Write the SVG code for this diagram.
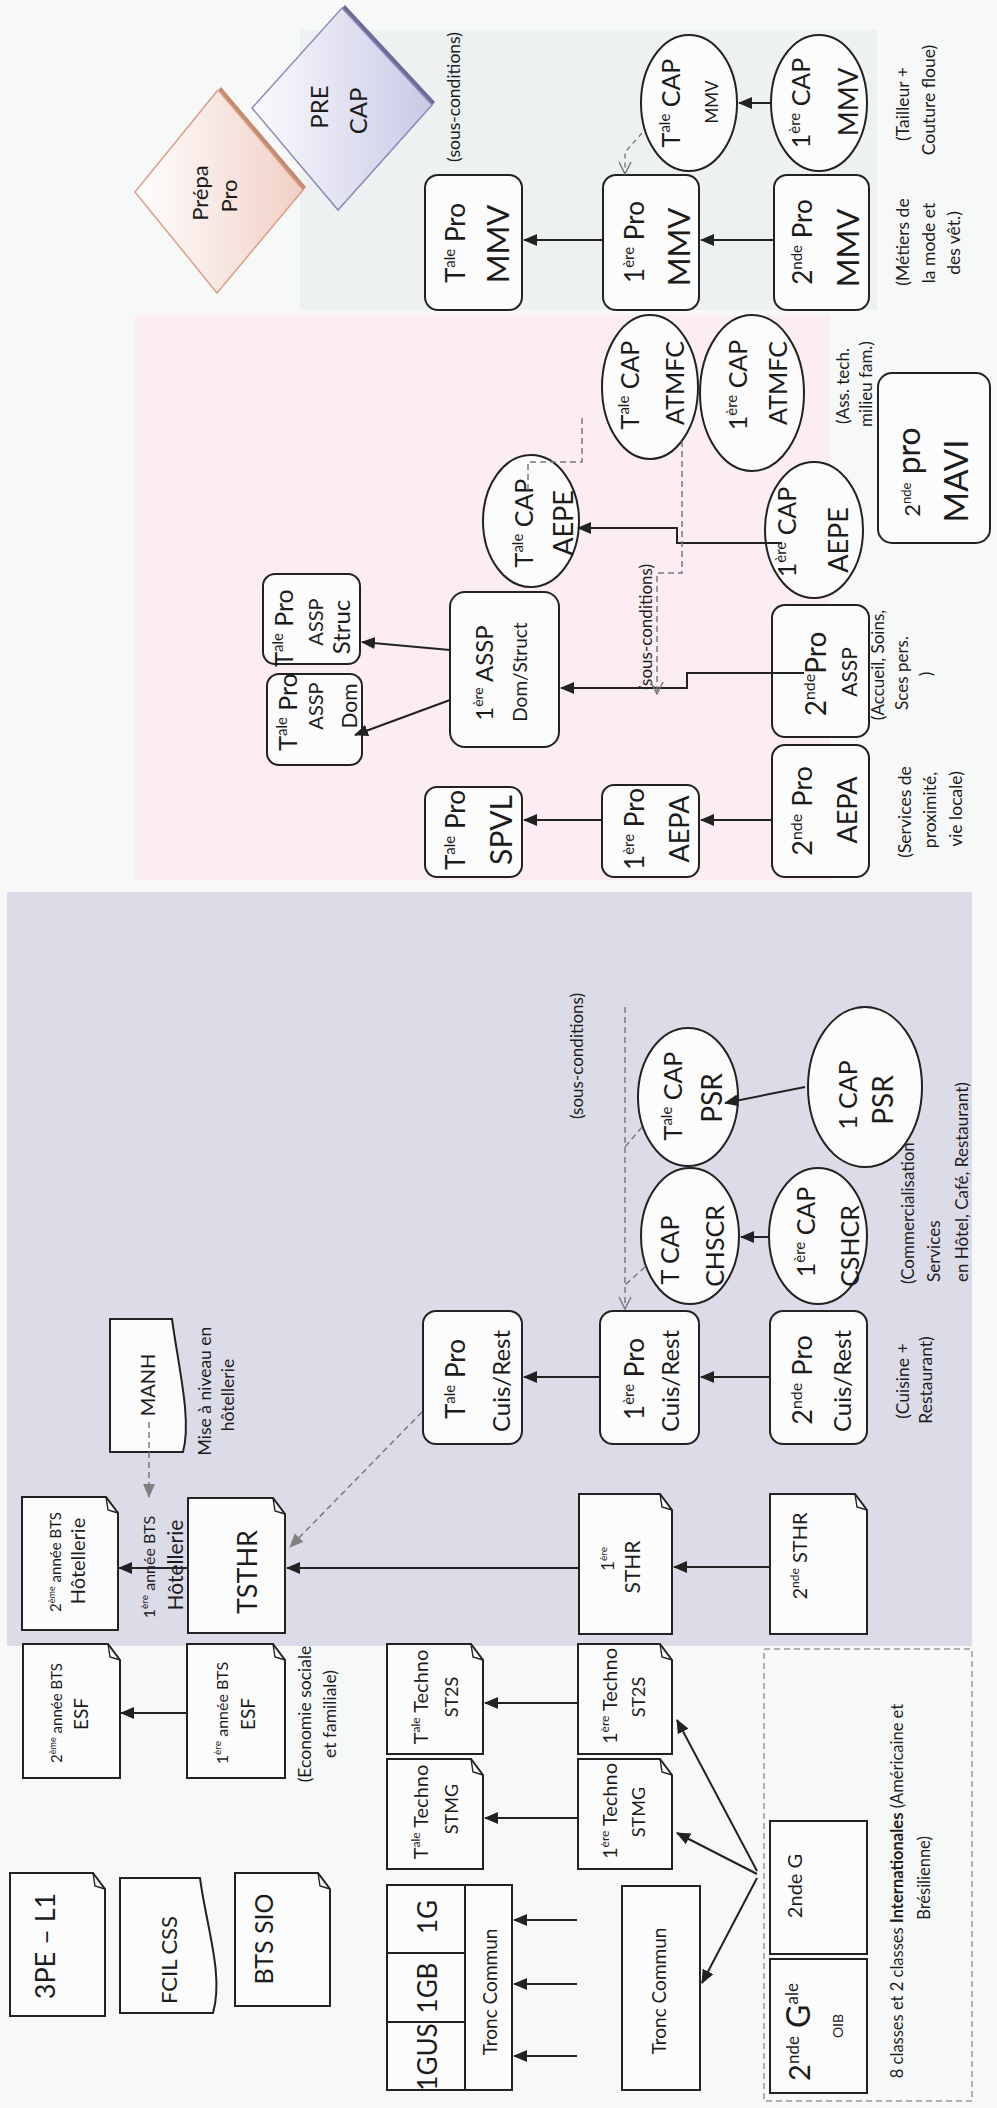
<svg xmlns="http://www.w3.org/2000/svg" width="997" height="2108" viewBox="0 0 997 2108">
<defs>
<style>
.t{font-family:Lato,'Liberation Sans',sans-serif;fill:#1c1c1c;text-anchor:middle}
.st{text-anchor:start}
.box{fill:#fcfcfc;stroke:#222;stroke-width:2}
.ln{fill:none;stroke:#222;stroke-width:2}
.dl{fill:none;stroke:#7a7a7a;stroke-width:1.5;stroke-dasharray:6 4}
.dg{fill:none;stroke:#6f8f78;stroke-width:1.5;stroke-dasharray:5 4}
.fold{fill:none;stroke:#222;stroke-width:1.4}
</style>
<marker id="a" viewBox="0 0 14 12" refX="13" refY="6" markerWidth="14" markerHeight="12" markerUnits="userSpaceOnUse" orient="auto"><path d="M0 0L14 6L0 12z" fill="#222"/></marker>
<marker id="ag" viewBox="0 0 14 12" refX="13" refY="6" markerWidth="14" markerHeight="12" markerUnits="userSpaceOnUse" orient="auto"><path d="M0 0L14 6L0 12z" fill="#808080"/></marker>
<marker id="ao" viewBox="0 0 14 14" refX="13" refY="7" markerWidth="14" markerHeight="14" markerUnits="userSpaceOnUse" orient="auto"><path d="M1 1L13 7L1 13" fill="none" stroke="#7a7a7a" stroke-width="1.5"/></marker>
<linearGradient id="gP" x1="0" y1="0" x2="1" y2="0"><stop offset="0" stop-color="#ffffff"/><stop offset="1" stop-color="#f0cfc5"/></linearGradient>
<linearGradient id="gC" x1="0" y1="0" x2="1" y2="0"><stop offset="0" stop-color="#fbfbfe"/><stop offset="1" stop-color="#c9c9e6"/></linearGradient>
</defs>

<g id="background">
<rect width="997" height="2108" fill="#f7f8f8"/>
<rect x="300" y="30" width="577" height="280" fill="#edf1f1"/>
<rect x="135" y="315" width="695" height="565" fill="#fbedf1"/>
<rect x="7" y="892" width="965" height="754" fill="#dcdce8"/>
<rect x="764" y="1649" width="208" height="452" fill="none" stroke="#999" stroke-width="1.5" stroke-dasharray="6 4"/>
</g>

<g id="prepa-pro">
<polygon points="138,189 221,87 306,187 220,290" fill="#c48a70"/>
<polygon points="135,192 218,90 303,190 217,293" fill="url(#gP)" stroke="#d9a08a" stroke-width="1.5"/>
<text class="t" x="208" y="193" font-size="22" transform="rotate(-90 208 193)">Prépa</text>
<text class="t" x="237" y="196" font-size="22" transform="rotate(-90 237 196)">Pro</text>
</g>
<g id="pre-cap">
<polygon points="255,105 345,5 435,102 341,207" fill="#6c6c9a"/>
<polygon points="252,108 342,8 432,105 338,210" fill="url(#gC)" stroke="#8c8cb8" stroke-width="1.5"/>
<text class="t" x="328" y="107" font-size="24" transform="rotate(-90 328 107)">PRE</text>
<text class="t" x="367" y="111" font-size="24" transform="rotate(-90 367 111)">CAP</text>
</g>

<g id="notes-mmv">
<text class="t" x="460" y="97" font-size="17.5" transform="rotate(-90 460 97)">(sous-conditions)</text>
<text class="t" x="909" y="104" font-size="17.5" transform="rotate(-90 909 104)">(Tailleur +</text>
<text class="t" x="935" y="100" font-size="17.5" transform="rotate(-90 935 100)">Couture floue)</text>
<text class="t" x="909" y="242" font-size="17.5" transform="rotate(-90 909 242)">(Métiers de</text>
<text class="t" x="935" y="243" font-size="17.5" transform="rotate(-90 935 243)">la mode et</text>
<text class="t" x="960" y="243" font-size="17.5" transform="rotate(-90 960 243)">des vêt.)</text>
</g>

<g id="tale-pro-mmv">
<rect class="box" x="425" y="175" width="97" height="135" rx="13"/>
<text class="t" x="465" y="243" font-size="26" transform="rotate(-90 465 243)">T<tspan font-size="15" dy="-10">ale</tspan><tspan dy="10"> Pro</tspan></text>
<text class="t" x="509" y="244" font-size="31" transform="rotate(-90 509 244)">MMV</text>
</g>
<g id="premiere-pro-mmv">
<rect class="box" x="603" y="175" width="96" height="135" rx="13"/>
<text class="t" x="644" y="242" font-size="26" transform="rotate(-90 644 242)">1<tspan font-size="15" dy="-10">ère</tspan><tspan dy="10"> Pro</tspan></text>
<text class="t" x="690" y="247" font-size="31" transform="rotate(-90 690 247)">MMV</text>
</g>
<g id="seconde-pro-mmv">
<rect class="box" x="774" y="175" width="95" height="135" rx="13"/>
<text class="t" x="812" y="242" font-size="26" transform="rotate(-90 812 242)">2<tspan font-size="15" dy="-10">nde</tspan><tspan dy="10"> Pro</tspan></text>
<text class="t" x="859" y="248" font-size="31" transform="rotate(-90 859 248)">MMV</text>
</g>
<g id="tale-cap-mmv">
<ellipse class="box" cx="689" cy="103" rx="48" ry="68"/>
<text class="t" x="680" y="103" font-size="25" transform="rotate(-90 680 103)">T<tspan font-size="15" dy="-10">ale</tspan><tspan dy="10"> CAP</tspan></text>
<text class="t" x="718" y="102" font-size="17" transform="rotate(-90 718 102)">MMV</text>
</g>
<g id="premiere-cap-mmv">
<ellipse class="box" cx="819" cy="103" rx="48" ry="68"/>
<text class="t" x="810" y="103" font-size="25" transform="rotate(-90 810 103)">1<tspan font-size="15" dy="-10">ère</tspan><tspan dy="10"> CAP</tspan></text>
<text class="t" x="858" y="102" font-size="27" transform="rotate(-90 858 102)">MMV</text>
</g>

<g id="tale-cap-atmfc">
<ellipse class="box" cx="650" cy="387" rx="48" ry="72"/>
<text class="t" x="639" y="385" font-size="25" transform="rotate(-90 639 385)">T<tspan font-size="15" dy="-10">ale</tspan><tspan dy="10"> CAP</tspan></text>
<text class="t" x="684" y="383" font-size="25" transform="rotate(-90 684 383)">ATMFC</text>
</g>
<g id="premiere-cap-atmfc">
<ellipse class="box" cx="752" cy="393" rx="52" ry="78"/>
<text class="t" x="747" y="385" font-size="25" transform="rotate(-90 747 385)">1<tspan font-size="15" dy="-10">ère</tspan><tspan dy="10"> CAP</tspan></text>
<text class="t" x="787" y="383" font-size="25" transform="rotate(-90 787 383)">ATMFC</text>
</g>
<g id="notes-atmfc">
<text class="t" x="849" y="386" font-size="17" transform="rotate(-90 849 386)">(Ass. tech.</text>
<text class="t" x="872" y="384" font-size="17" transform="rotate(-90 872 384)">milieu fam.)</text>
</g>
<g id="seconde-pro-mavi">
<rect class="box" x="878" y="373" width="112" height="170" rx="14"/>
<text class="t" x="920" y="472" font-size="22" transform="rotate(-90 920 472)">2<tspan font-size="13" dy="-9">nde</tspan><tspan dy="9" font-size="32"> pro</tspan></text>
<text class="t" x="968" y="481" font-size="33" transform="rotate(-90 968 481)">MAVI</text>
</g>

<g id="tale-cap-aepe">
<ellipse class="box" cx="531" cy="521" rx="48" ry="66"/>
<text class="t" x="533" y="523" font-size="25" transform="rotate(-90 533 523)">T<tspan font-size="15" dy="-10">ale</tspan><tspan dy="10"> CAP</tspan></text>
<text class="t" x="573" y="523" font-size="27" transform="rotate(-90 573 523)">AEPE</text>
</g>
<g id="premiere-cap-aepe">
<ellipse class="box" cx="814" cy="530" rx="49" ry="68"/>
<text class="t" x="796" y="532" font-size="25" transform="rotate(-90 796 532)">1<tspan font-size="15" dy="-10">ère</tspan><tspan dy="10"> CAP</tspan></text>
<text class="t" x="848" y="540" font-size="27" transform="rotate(-90 848 540)">AEPE</text>
</g>

<g id="premiere-assp">
<rect class="box" x="450" y="592" width="109" height="155" rx="15"/>
<text class="t" x="493" y="673" font-size="24" transform="rotate(-90 493 673)">1<tspan font-size="14" dy="-10">ère</tspan><tspan dy="10"> ASSP</tspan></text>
<text class="t" x="527" y="672" font-size="19" transform="rotate(-90 527 672)">Dom/Struct</text>
</g>
<g id="tale-pro-assp-struc">
<rect class="box" x="263" y="574" width="97" height="90" rx="12"/>
<text class="t" x="293" y="628" font-size="25" transform="rotate(-90 293 628)">T<tspan font-size="15" dy="-10">ale</tspan><tspan dy="10"> Pro</tspan></text>
<text class="t" x="323" y="622" font-size="20" transform="rotate(-90 323 622)">ASSP</text>
<text class="t" x="350" y="627" font-size="24" transform="rotate(-90 350 627)">Struc</text>
</g>
<g id="tale-pro-assp-dom">
<rect class="box" x="267" y="674" width="95" height="91" rx="12"/>
<text class="t" x="297" y="712" font-size="25" transform="rotate(-90 297 712)">T<tspan font-size="15" dy="-10">ale</tspan><tspan dy="10"> Pro</tspan></text>
<text class="t" x="323" y="706" font-size="20" transform="rotate(-90 323 706)">ASSP</text>
<text class="t" x="357" y="706" font-size="21" transform="rotate(-90 357 706)">Dom</text>
</g>
<g id="tale-pro-spvl">
<rect class="box" x="425" y="787" width="97" height="90" rx="12"/>
<text class="t" x="465" y="830" font-size="26" transform="rotate(-90 465 830)">T<tspan font-size="15" dy="-10">ale</tspan><tspan dy="10"> Pro</tspan></text>
<text class="t" x="512" y="830" font-size="30" transform="rotate(-90 512 830)">SPVL</text>
</g>
<g id="premiere-pro-aepa">
<rect class="box" x="602" y="785" width="97" height="92" rx="12"/>
<text class="t" x="644" y="829" font-size="26" transform="rotate(-90 644 829)">1<tspan font-size="15" dy="-10">ère</tspan><tspan dy="10"> Pro</tspan></text>
<text class="t" x="689" y="829" font-size="27" transform="rotate(-90 689 829)">AEPA</text>
</g>
<g id="seconde-pro-aepa">
<rect class="box" x="772" y="745" width="97" height="132" rx="13"/>
<text class="t" x="812" y="811" font-size="27" transform="rotate(-90 812 811)">2<tspan font-size="16" dy="-10">nde</tspan><tspan dy="10"> Pro</tspan></text>
<text class="t" x="857" y="810" font-size="27" transform="rotate(-90 857 810)">AEPA</text>
</g>
<g id="seconde-pro-assp">
<rect class="box" x="772" y="605" width="97" height="132" rx="13"/>
<text class="t" x="826" y="674" font-size="28" transform="rotate(-90 826 674)">2<tspan font-size="16" dy="-11">nde</tspan><tspan dy="11">Pro</tspan></text>
<text class="t" x="857" y="672" font-size="21" transform="rotate(-90 857 672)">ASSP</text>
</g>
<g id="notes-assp">
<text class="t" x="652" y="627" font-size="17" transform="rotate(-90 652 627)">(sous-conditions)</text>
<text class="t" x="884" y="665" font-size="17" transform="rotate(-90 884 665)">(Accueil, Soins,</text>
<text class="t" x="908" y="673" font-size="17" transform="rotate(-90 908 673)">Sces pers.</text>
<text class="t" x="932" y="674" font-size="17" transform="rotate(-90 932 674)">)</text>
<text class="t" x="911" y="812" font-size="17.5" transform="rotate(-90 911 812)">(Services de</text>
<text class="t" x="936" y="810" font-size="17.5" transform="rotate(-90 936 810)">proximité,</text>
<text class="t" x="962" y="809" font-size="17.5" transform="rotate(-90 962 809)">vie locale)</text>
</g>

<g id="tale-pro-cuis">
<rect class="box" x="423" y="1311" width="99" height="133" rx="13"/>
<text class="t" x="465" y="1379" font-size="26" transform="rotate(-90 465 1379)">T<tspan font-size="15" dy="-10">ale</tspan><tspan dy="10"> Pro</tspan></text>
<text class="t" x="510" y="1381" font-size="24" transform="rotate(-90 510 1381)">Cuis/Rest</text>
</g>
<g id="premiere-pro-cuis">
<rect class="box" x="600" y="1311" width="99" height="133" rx="13"/>
<text class="t" x="644" y="1379" font-size="26" transform="rotate(-90 644 1379)">1<tspan font-size="15" dy="-10">ère</tspan><tspan dy="10"> Pro</tspan></text>
<text class="t" x="679" y="1381" font-size="24" transform="rotate(-90 679 1381)">Cuis/Rest</text>
</g>
<g id="seconde-pro-cuis">
<rect class="box" x="770" y="1311" width="97" height="133" rx="13"/>
<text class="t" x="812" y="1380" font-size="27" transform="rotate(-90 812 1380)">2<tspan font-size="16" dy="-10">nde</tspan><tspan dy="10"> Pro</tspan></text>
<text class="t" x="851" y="1381" font-size="24" transform="rotate(-90 851 1381)">Cuis/Rest</text>
</g>
<g id="t-cap-chscr">
<ellipse class="box" cx="690" cy="1236" rx="49" ry="68"/>
<text class="t" x="679" y="1250" font-size="25" transform="rotate(-90 679 1250)">T CAP</text>
<text class="t" x="724" y="1246" font-size="25" transform="rotate(-90 724 1246)">CHSCR</text>
</g>
<g id="premiere-cap-cshcr">
<ellipse class="box" cx="818" cy="1236" rx="49" ry="68"/>
<text class="t" x="815" y="1232" font-size="25" transform="rotate(-90 815 1232)">1<tspan font-size="15" dy="-10">ère</tspan><tspan dy="10"> CAP</tspan></text>
<text class="t" x="859" y="1246" font-size="25" transform="rotate(-90 859 1246)">CSHCR</text>
</g>
<g id="tale-cap-psr">
<ellipse class="box" cx="688" cy="1097" rx="50" ry="69"/>
<text class="t" x="682" y="1096" font-size="25" transform="rotate(-90 682 1096)">T<tspan font-size="15" dy="-10">ale</tspan><tspan dy="10"> CAP</tspan></text>
<text class="t" x="722" y="1098" font-size="28" transform="rotate(-90 722 1098)">PSR</text>
</g>
<g id="un-cap-psr">
<ellipse class="box" cx="865" cy="1087" rx="57" ry="80"/>
<text class="t" x="857" y="1095" font-size="25" transform="rotate(-90 857 1095)">1 CAP</text>
<text class="t" x="893" y="1100" font-size="28" transform="rotate(-90 893 1100)">PSR</text>
</g>
<g id="notes-hotel">
<text class="t" x="583" y="1056" font-size="17" transform="rotate(-90 583 1056)">(sous-conditions)</text>
<text class="t st" x="914" y="1284" font-size="17" transform="rotate(-90 914 1284)">(Commercialisation</text>
<text class="t st" x="940" y="1282" font-size="17" transform="rotate(-90 940 1282)">Services</text>
<text class="t st" x="968" y="1282" font-size="17" transform="rotate(-90 968 1282)">en Hôtel, Café, Restaurant)</text>
<text class="t" x="909" y="1381" font-size="17.5" transform="rotate(-90 909 1381)">(Cuisine +</text>
<text class="t" x="932" y="1380" font-size="17.5" transform="rotate(-90 932 1380)">Restaurant)</text>
<text class="t" x="211" y="1391" font-size="17.5" transform="rotate(-90 211 1391)">Mise à niveau en</text>
<text class="t" x="234" y="1395" font-size="17.5" transform="rotate(-90 234 1395)">hôtellerie</text>
<text class="t" x="155" y="1567" font-size="16" transform="rotate(-90 155 1567)">1<tspan font-size="10" dy="-7">ère</tspan><tspan dy="7"> année BTS</tspan></text>
<text class="t" x="183" y="1565" font-size="21" transform="rotate(-90 183 1565)">Hôtellerie</text>
</g>
<g id="manh">
<path class="box" d="M110 1319H172C178 1365 192 1420 183 1452H110Z"/>
<text class="t" x="155" y="1385" font-size="20" transform="rotate(-90 155 1385)">MANH</text>
</g>
<g id="bts-hotellerie-2">
<path class="box" d="M22 1497H106L118 1513V1630H22Z"/>
<path class="fold" d="M106 1497L108 1510L118 1513"/>
<text class="t" x="61" y="1562" font-size="15" transform="rotate(-90 61 1562)">2<tspan font-size="9" dy="-6">ème</tspan><tspan dy="6"> année BTS</tspan></text>
<text class="t" x="85" y="1561" font-size="20" transform="rotate(-90 85 1561)">Hôtellerie</text>
</g>
<g id="tsthr">
<path class="box" d="M188 1498H273L285 1514V1633H188Z"/>
<path class="fold" d="M273 1498L275 1511L285 1514"/>
<text class="t" x="257" y="1572" font-size="27" transform="rotate(-90 257 1572)">TSTHR</text>
</g>
<g id="premiere-sthr">
<path class="box" d="M579 1494H660L672 1510V1634H579Z"/>
<path class="fold" d="M660 1494L662 1507L672 1510"/>
<text class="t" x="614" y="1559" font-size="17" transform="rotate(-90 614 1559)">1<tspan font-size="10" dy="-7">ère</tspan></text>
<text class="t" x="640" y="1567" font-size="21" transform="rotate(-90 640 1567)">STHR</text>
</g>
<g id="seconde-sthr">
<path class="box" d="M770 1494H855L867 1510V1634H770Z"/>
<path class="fold" d="M855 1494L857 1507L867 1510"/>
<text class="t" x="807" y="1556" font-size="20" transform="rotate(-90 807 1556)">2<tspan font-size="12" dy="-8">nde</tspan><tspan dy="8"> STHR</tspan></text>
</g>

<g id="bts-esf-2">
<path class="box" d="M23 1644H108L120 1660V1778H23Z"/>
<path class="fold" d="M108 1644L110 1657L120 1660"/>
<text class="t" x="62" y="1713" font-size="15" transform="rotate(-90 62 1713)">2<tspan font-size="9" dy="-6">ème</tspan><tspan dy="6"> année BTS</tspan></text>
<text class="t" x="88" y="1714" font-size="19" transform="rotate(-90 88 1714)">ESF</text>
</g>
<g id="bts-esf-1">
<path class="box" d="M187 1644H273L285 1660V1778H187Z"/>
<path class="fold" d="M273 1644L275 1657L285 1660"/>
<text class="t" x="228" y="1713" font-size="16" transform="rotate(-90 228 1713)">1<tspan font-size="10" dy="-7">ère</tspan><tspan dy="7"> année BTS</tspan></text>
<text class="t" x="255" y="1714" font-size="19" transform="rotate(-90 255 1714)">ESF</text>
</g>
<g id="notes-esf">
<text class="t" x="311" y="1714" font-size="17.5" transform="rotate(-90 311 1714)">(Economie sociale</text>
<text class="t" x="336" y="1714" font-size="17.5" transform="rotate(-90 336 1714)">et familiale)</text>
</g>
<g id="tale-techno-st2s">
<path class="box" d="M387 1644H471L483 1660V1754H387Z"/>
<path class="fold" d="M471 1644L473 1657L483 1660"/>
<text class="t" x="428" y="1697" font-size="20" transform="rotate(-90 428 1697)">T<tspan font-size="12" dy="-8">ale</tspan><tspan dy="8"> Techno</tspan></text>
<text class="t" x="458" y="1697" font-size="18" transform="rotate(-90 458 1697)">ST2S</text>
</g>
<g id="tale-techno-stmg">
<path class="box" d="M387 1759H471L483 1775V1869H387Z"/>
<path class="fold" d="M471 1759L473 1772L483 1775"/>
<text class="t" x="428" y="1812" font-size="20" transform="rotate(-90 428 1812)">T<tspan font-size="12" dy="-8">ale</tspan><tspan dy="8"> Techno</tspan></text>
<text class="t" x="458" y="1809" font-size="18" transform="rotate(-90 458 1809)">STMG</text>
</g>
<g id="premiere-techno-st2s">
<path class="box" d="M578 1644H660L672 1660V1754H578Z"/>
<path class="fold" d="M660 1644L662 1657L672 1660"/>
<text class="t" x="617" y="1696" font-size="20" transform="rotate(-90 617 1696)">1<tspan font-size="12" dy="-8">ère</tspan><tspan dy="8"> Techno</tspan></text>
<text class="t" x="645" y="1697" font-size="18" transform="rotate(-90 645 1697)">ST2S</text>
</g>
<g id="premiere-techno-stmg">
<path class="box" d="M578 1759H660L672 1775V1869H578Z"/>
<path class="fold" d="M660 1759L662 1772L672 1775"/>
<text class="t" x="617" y="1811" font-size="20" transform="rotate(-90 617 1811)">1<tspan font-size="12" dy="-8">ère</tspan><tspan dy="8"> Techno</tspan></text>
<text class="t" x="645" y="1812" font-size="18" transform="rotate(-90 645 1812)">STMG</text>
</g>
<g id="premiere-generale">
<rect class="box" x="387" y="1885" width="125" height="205"/>
<path class="ln" d="M465 1885V2090M387 1953H465M387 2022H465"/>
<text class="t" x="437" y="1917" font-size="26" transform="rotate(-90 437 1917)">1G</text>
<text class="t" x="437" y="1988" font-size="26" transform="rotate(-90 437 1988)">1GB</text>
<text class="t" x="437" y="2057" font-size="26" transform="rotate(-90 437 2057)">1GUS</text>
<text class="t" x="497" y="1992" font-size="19" transform="rotate(-90 497 1992)">Tronc Commun</text>
</g>
<g id="tronc-commun">
<rect class="box" x="622" y="1886" width="78" height="204"/>
<text class="t" x="666" y="1991" font-size="19" transform="rotate(-90 666 1991)">Tronc Commun</text>
</g>
<g id="seconde-g">
<rect class="box" x="770" y="1821" width="97" height="133"/>
<text class="t" x="802" y="1886" font-size="20" transform="rotate(-90 802 1886)">2nde G</text>
</g>
<g id="seconde-oib">
<rect class="box" x="770" y="1959" width="97" height="134"/>
<text class="t" x="810" y="2032" font-size="29" transform="rotate(-90 810 2032)">2<tspan font-size="17" dy="-11">nde</tspan><tspan dy="11" font-size="32"> G</tspan><tspan font-size="17" dy="-12">ale</tspan></text>
<text class="t" x="843" y="2026" font-size="14" transform="rotate(-90 843 2026)">OIB</text>
</g>
<g id="notes-internationales">
<text class="t" x="903" y="1891" font-size="16.5" transform="rotate(-90 903 1891)">8 classes et 2 classes <tspan font-weight="bold">Internationales</tspan> (Américaine et</text>
<text class="t" x="930" y="1878" font-size="16.5" transform="rotate(-90 930 1878)">Brésilienne)</text>
</g>
<g id="pe-l1">
<path class="box" d="M10 1873H93L105 1889V2016H10Z"/>
<path class="fold" d="M93 1873L95 1886L105 1889"/>
<text class="t" x="55" y="1946" font-size="27" transform="rotate(-90 55 1946)">3PE – L1</text>
</g>
<g id="fcil-css">
<path class="box" d="M120 1878H200C206 1925 224 1975 213 2013H120Z"/>
<text class="t" x="177" y="1960" font-size="22" transform="rotate(-90 177 1960)">FCIL CSS</text>
</g>
<g id="bts-sio">
<path class="box" d="M235 1873H318L330 1889V2006H235Z"/>
<path class="fold" d="M318 1873L320 1886L330 1889"/>
<text class="t" x="273" y="1939" font-size="25" transform="rotate(-90 273 1939)">BTS SIO</text>
</g>

<g id="connectors">
<path class="ln" marker-end="url(#a)" d="M603 240H524"/>
<path class="ln" marker-end="url(#a)" d="M774 240H701"/>
<path class="ln" marker-end="url(#a)" d="M771 103H739"/>
<path class="dg" marker-end="url(#ao)" d="M642 133L625 152V174"/>
<path class="ln" marker-end="url(#a)" d="M450 650L362 642"/>
<path class="ln" marker-end="url(#a)" d="M450 700L355 735"/>
<path class="ln" marker-end="url(#a)" d="M602 820H524"/>
<path class="ln" marker-end="url(#a)" d="M772 820H701"/>
<path class="ln" marker-end="url(#a)" d="M804 673H687V688H561"/>
<path class="ln" marker-end="url(#a)" d="M782 543H677V528H578"/>
<path class="dl" marker-end="url(#ao)" d="M682 441V573H657V694"/>
<path class="dl" d="M582 418V462H528V490"/>
<path class="ln" marker-end="url(#a)" d="M600 1377H524"/>
<path class="ln" marker-end="url(#a)" d="M770 1377H701"/>
<path class="ln" marker-end="url(#a)" d="M769 1237H741"/>
<path class="ln" marker-end="url(#a)" d="M805 1087L725 1103"/>
<path class="dl" marker-end="url(#ao)" d="M625 1007V1309"/>
<path class="dl" d="M645 1267L625 1285"/>
<path class="dl" d="M642 1127L625 1147"/>
<path class="ln" marker-end="url(#a)" d="M579 1568H287"/>
<path class="ln" marker-end="url(#a)" d="M770 1567H674"/>
<path class="ln" marker-end="url(#a)" d="M188 1568H119"/>
<path class="dl" stroke="#808080" stroke-width="2" marker-end="url(#ag)" d="M149 1422V1497"/>
<path class="dl" stroke="#808080" stroke-width="2" marker-end="url(#ag)" d="M422 1412L290 1547"/>
<path class="ln" marker-end="url(#a)" d="M187 1713H121"/>
<path class="ln" marker-end="url(#a)" d="M578 1703H485"/>
<path class="ln" marker-end="url(#a)" d="M578 1818H485"/>
<path class="ln" marker-end="url(#a)" d="M577 1920H514"/>
<path class="ln" marker-end="url(#a)" d="M577 1984H514"/>
<path class="ln" marker-end="url(#a)" d="M577 2056H514"/>
<path class="ln" marker-end="url(#a)" d="M757 1871L677 1720"/>
<path class="ln" marker-end="url(#a)" d="M757 1874L677 1833"/>
<path class="ln" marker-end="url(#a)" d="M757 1878L702 1983"/>
</g>
</svg>
